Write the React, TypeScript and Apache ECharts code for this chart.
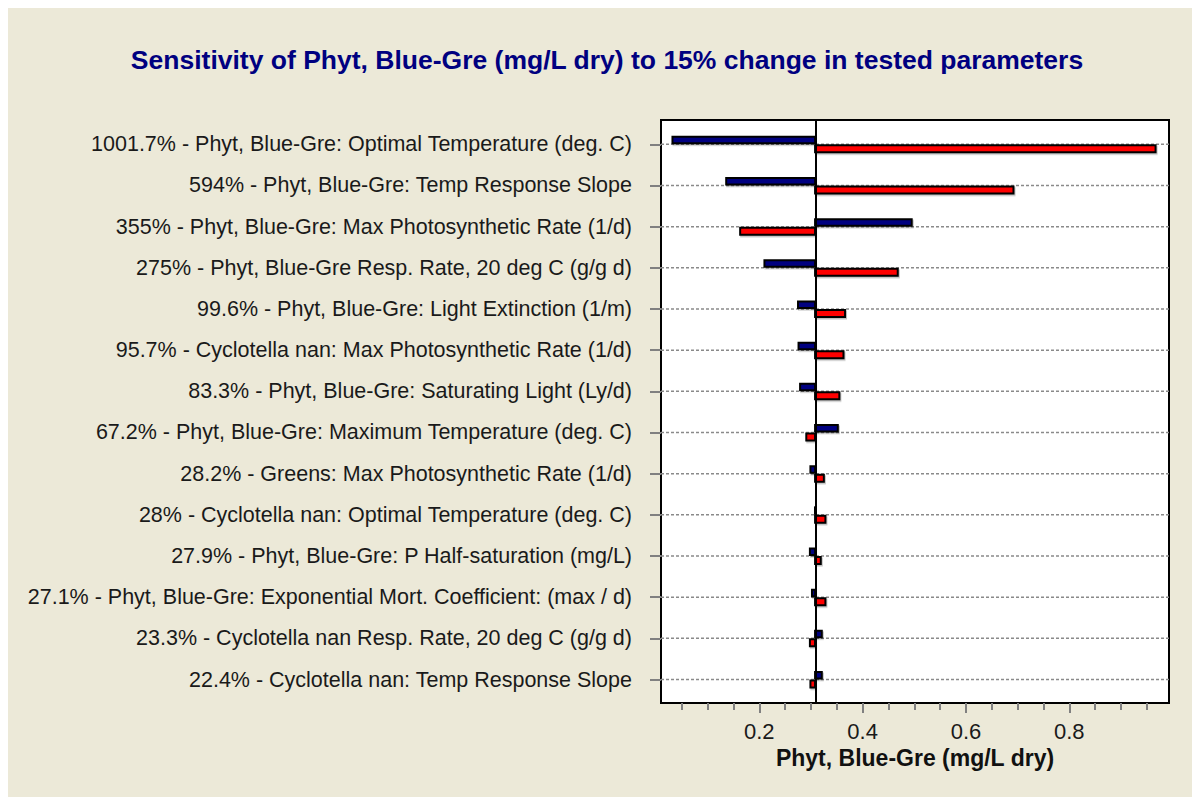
import React, { useEffect, useRef } from "react";
import * as echarts from "echarts";

const categories: string[] = [
  "1001.7% - Phyt, Blue-Gre: Optimal Temperature (deg. C)",
  "594% - Phyt, Blue-Gre: Temp Response Slope",
  "355% - Phyt, Blue-Gre: Max Photosynthetic Rate (1/d)",
  "275% - Phyt, Blue-Gre Resp. Rate, 20 deg C (g/g d)",
  "99.6% - Phyt, Blue-Gre: Light Extinction (1/m)",
  "95.7% - Cyclotella nan: Max Photosynthetic Rate (1/d)",
  "83.3% - Phyt, Blue-Gre: Saturating Light (Ly/d)",
  "67.2% - Phyt, Blue-Gre: Maximum Temperature (deg. C)",
  "28.2% - Greens: Max Photosynthetic Rate (1/d)",
  "28% - Cyclotella nan: Optimal Temperature (deg. C)",
  "27.9% - Phyt, Blue-Gre: P Half-saturation (mg/L)",
  "27.1% - Phyt, Blue-Gre: Exponential Mort. Coefficient: (max / d)",
  "23.3% - Cyclotella nan Resp. Rate, 20 deg C (g/g d)",
  "22.4% - Cyclotella nan: Temp Response Slope",
];

// blue bars (one direction of change)
const blueValues: number[] = [
  0.032, 0.136, 0.495, 0.21, 0.275, 0.276, 0.279, 0.352, 0.299, 0.307, 0.298, 0.302, 0.321, 0.321,
];
// red bars (other direction of change)
const redValues: number[] = [
  0.967, 0.692, 0.163, 0.468, 0.366, 0.363, 0.355, 0.291, 0.325, 0.328, 0.319, 0.328, 0.298, 0.299,
];
const baseline = 0.308;

const xMin = 0.0098;
const xMax = 0.993;
const majorTicks: number[] = [0.2, 0.4, 0.6, 0.8];
const minorTicks: number[] = [
  0.05, 0.1, 0.15, 0.2, 0.25, 0.3, 0.35, 0.4, 0.45, 0.5, 0.55, 0.6, 0.65, 0.7, 0.75, 0.8, 0.85, 0.9, 0.95,
];

const FONT = "'Liberation Sans', Arial, sans-serif";

export default function App() {
  const ref = useRef<HTMLDivElement>(null);

  useEffect(() => {
    if (!ref.current) return;
    const chart = echarts.init(ref.current, undefined, { renderer: "svg" });
    const rows = categories.map((_, i) => i);

    const barData: any[] = [];
    categories.forEach((_, i) => {
      barData.push([blueValues[i], i, 0]);
      barData.push([redValues[i], i, 1]);
    });

    const option: any = {
      animation: false,
      backgroundColor: "transparent",
      title: {
        text: "Sensitivity of Phyt, Blue-Gre (mg/L dry) to 15% change in tested parameters",
        left: 594,
        top: 33,
        textAlign: "center",
        textStyle: { fontFamily: FONT, fontSize: 26.5, fontWeight: "bold", color: "#000080" },
      },
      grid: {
        left: 653,
        top: 112,
        width: 508,
        height: 583,
        show: true,
        backgroundColor: "#ffffff",
        borderColor: "#000000",
        borderWidth: 2,
      },
      xAxis: [
        {
          type: "value",
          min: xMin,
          max: xMax,
          position: "bottom",
          axisLine: { show: false, onZero: false },
          splitLine: { show: false },
          axisTick: {
            show: true,
            customValues: majorTicks,
            length: 10,
            lineStyle: { color: "#808080", width: 2 },
          },
          axisLabel: {
            customValues: majorTicks,
            margin: 17,
            fontFamily: FONT,
            fontSize: 22,
            color: "#1a1a1a",
          },
          name: "Phyt, Blue-Gre (mg/L dry)",
          nameLocation: "middle",
          nameGap: 43,
          nameTextStyle: { fontFamily: FONT, fontSize: 23, fontWeight: "bold", color: "#111111" },
        },
        {
          type: "value",
          min: xMin,
          max: xMax,
          position: "bottom",
          axisLine: { show: false, onZero: false },
          splitLine: { show: false },
          axisTick: {
            show: true,
            customValues: minorTicks,
            length: 7,
            lineStyle: { color: "#808080", width: 2 },
          },
          axisLabel: { show: false },
        },
      ],
      yAxis: {
        type: "value",
        min: -0.59,
        max: 13.57,
        inverse: true,
        axisLine: { show: false, onZero: false },
        splitLine: { show: false },
        axisTick: {
          show: true,
          customValues: rows,
          length: 11,
          lineStyle: { color: "#808080", width: 2 },
        },
        axisLabel: {
          customValues: rows,
          margin: 29,
          fontFamily: FONT,
          fontSize: 21.5,
          color: "#1a1a1a",
          formatter: (v: number) => categories[Math.round(v)] ?? "",
        },
      },
      series: [
        {
          type: "custom",
          name: "grid-lines",
          xAxisIndex: 0,
          z: 1,
          silent: true,
          data: rows.map((r) => [r]),
          encode: { y: 0 },
          renderItem: (params: any, api: any) => {
            const r = api.value(0);
            const p1 = api.coord([xMin, r]);
            const p2 = api.coord([xMax, r]);
            return {
              type: "line",
              shape: { x1: p1[0], y1: p1[1], x2: p2[0], y2: p2[1] },
              style: { stroke: "#8a8a8a", lineWidth: 1.5, lineDash: [3, 2] },
            };
          },
        },
        {
          type: "custom",
          name: "bars",
          xAxisIndex: 0,
          z: 3,
          silent: true,
          data: barData,
          encode: { x: 0, y: 1 },
          renderItem: (params: any, api: any) => {
            const v = api.value(0);
            const r = api.value(1);
            const kind = api.value(2);
            const pv = api.coord([v, r]);
            const pb = api.coord([baseline, r]);
            const x0 = Math.min(pv[0], pb[0]);
            const w = Math.abs(pv[0] - pb[0]);
            const c = pb[1];
            const y0 = kind === 0 ? c - 7.5 : c + 1;
            const h = kind === 0 ? 6.5 : 7;
            return {
              type: "rect",
              shape: { x: x0, y: y0, width: w, height: h },
              style: {
                fill: kind === 0 ? "#000080" : "#ff0000",
                stroke: "#000000",
                lineWidth: 2,
                shadowColor: "rgba(0,0,0,0.25)",
                shadowOffsetX: 1,
                shadowOffsetY: 1.5,
                shadowBlur: 0,
              },
            };
          },
          markLine: {
            silent: true,
            symbol: "none",
            label: { show: false },
            lineStyle: { color: "#000000", width: 2, type: "solid" },
            data: [{ xAxis: baseline }],
            z: 4,
          },
        },
      ],
    };

    chart.setOption(option);
    return () => chart.dispose();
  }, []);

  return (
    <div
      ref={ref}
      style={{
        position: "fixed",
        left: 8,
        top: 8,
        width: 1184,
        height: 789,
        background: "#ECE9D8",
      }}
    />
  );
}
